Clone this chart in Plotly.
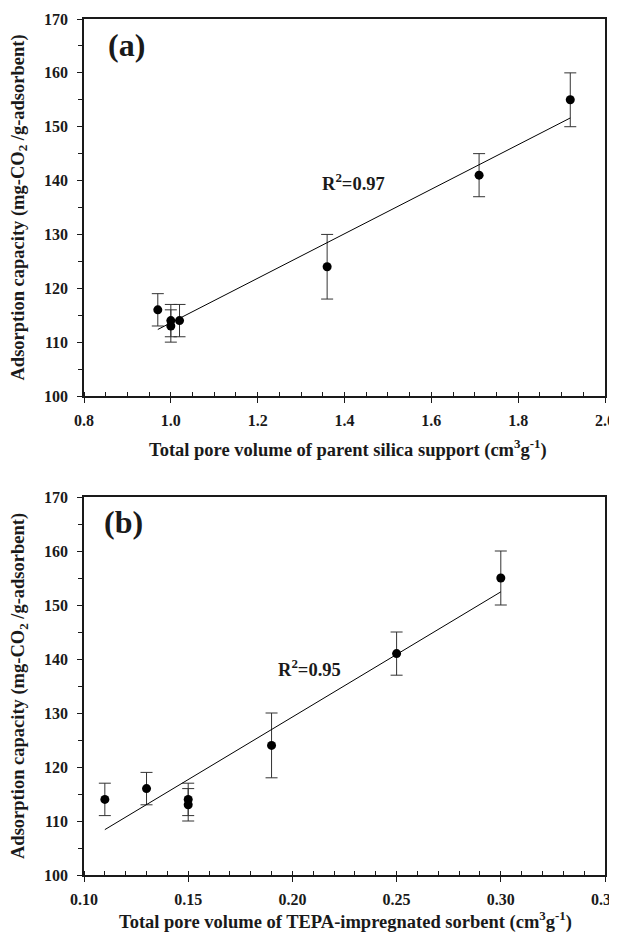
import numpy as np
import plotly.graph_objects as go

# ---- data ----
x_a = [0.97, 1.00, 1.00, 1.02, 1.36, 1.71, 1.92]
y_a = [116, 114, 113, 114, 124, 141, 155]
err_a = [3, 3, 3, 3, 6, 4, 5]

x_b = [0.13, 0.15, 0.15, 0.11, 0.19, 0.25, 0.30]
y_b = [116, 114, 113, 114, 124, 141, 155]
err_b = [3, 3, 3, 3, 6, 4, 5]

r2_a = "0.97"
r2_b = "0.95"

FONT = "Liberation Serif, Times New Roman, serif"
INK = "#1a1a1a"

# The page body has an 8px default margin; size the figure so it fits the window.
OFF = 8
W, H = 617 - OFF, 934 - OFF


def fx(px):  # screen x pixel -> paper fraction
    return (px - OFF) / W


def fy(py):  # screen y pixel -> paper fraction
    return 1 - (py - OFF) / H


fig = go.Figure()


def add_panel(xs, ys, errs, xa, ya):
    fig.add_trace(go.Scatter(
        x=xs, y=ys, mode="markers", xaxis=xa, yaxis=ya,
        marker=dict(color="black", size=9),
        error_y=dict(type="data", array=errs, visible=True, color="#333333",
                     thickness=1, width=6),
        showlegend=False, hoverinfo="skip"))
    k, b = np.polyfit(xs, ys, 1)
    xl = np.array([min(xs), max(xs)])
    fig.add_trace(go.Scatter(
        x=xl, y=k * xl + b, mode="lines", xaxis=xa, yaxis=ya,
        line=dict(color="black", width=1), showlegend=False, hoverinfo="skip"))


add_panel(x_a, y_a, err_a, "x", "y")
add_panel(x_b, y_b, err_b, "x2", "y2")

xdom = [fx(84), fx(605)]
ydom_a = [fy(396), fy(19)]
ydom_b = [fy(875), fy(497)]

tickfont = dict(family=FONT, size=16, color=INK, weight="bold")
common_x = dict(domain=xdom, showline=True, linecolor=INK, linewidth=1.5, mirror=True,
                ticks="outside", ticklen=5, tickwidth=1.2, tickcolor=INK,
                showgrid=False, zeroline=False, tickfont=tickfont, ticklabelstandoff=4,
                automargin=False, ticklabeloverflow="allow",
                minor=dict(ticks="inside", ticklen=4, tickwidth=1.2, tickcolor=INK, showgrid=False))
common_y = dict(showline=True, linecolor=INK, linewidth=1.5, mirror=True,
                ticks="outside", ticklen=5, tickwidth=1.2, tickcolor=INK,
                showgrid=False, zeroline=False, tickfont=tickfont, ticklabelstandoff=6,
                automargin=False, ticklabeloverflow="allow",
                range=[100, 170], dtick=10, tick0=100,
                minor=dict(ticks="outside", ticklen=4, tickwidth=1.2, tickcolor=INK,
                           dtick=5, showgrid=False))

fig.update_layout(
    width=W, height=H, autosize=False,
    margin=dict(l=0, r=0, t=0, b=0, pad=0, autoexpand=False),
    paper_bgcolor="white", plot_bgcolor="white",
    showlegend=False,
    xaxis=dict(**common_x, anchor="y", range=[0.8, 2.0], dtick=0.2, tick0=0.8,
               tickformat=".1f"),
    yaxis=dict(**common_y, domain=ydom_a, anchor="x"),
    xaxis2=dict(**common_x, anchor="y2", range=[0.10, 0.35], dtick=0.05, tick0=0.10,
                tickformat=".2f"),
    yaxis2=dict(**common_y, domain=ydom_b, anchor="x2"),
)

ann_font = dict(family=FONT, size=18.5, color=INK, weight="bold")
lab_font = dict(family=FONT, size=32, color=INK, weight="bold")
ytitle = "Adsorption capacity (mg-CO<sub>2</sub> /g-adsorbent)"


def ann(text, x, y, xref="paper", yref="paper", font=ann_font, angle=0):
    return dict(text=text, x=x, y=y, xref=xref, yref=yref, xanchor="center",
                yanchor="middle", textangle=angle, showarrow=False, font=font)


annotations = [
    ann(ytitle, fx(19), fy(207.5), angle=-90),
    ann(ytitle, fx(19), fy(686), angle=-90),
    ann("Total pore volume of parent silica support (cm<sup>3</sup>g<sup>-1</sup>)",
        fx(348), fy(448)),
    ann("Total pore volume of TEPA-impregnated sorbent (cm<sup>3</sup>g<sup>-1</sup>)",
        fx(345), fy(920)),
    ann("(a)", 0.897, 165.2, "x", "y", lab_font),
    ann("(b)", 0.119, 165.4, "x2", "y2", lab_font),
    ann("R<sup>2</sup>=" + r2_a, 1.421, 139.8, "x", "y"),
    ann("R<sup>2</sup>=" + r2_b, 0.208, 138.3, "x2", "y2"),
]
fig.update_layout(annotations=annotations)

fig.write_html("out.html")
